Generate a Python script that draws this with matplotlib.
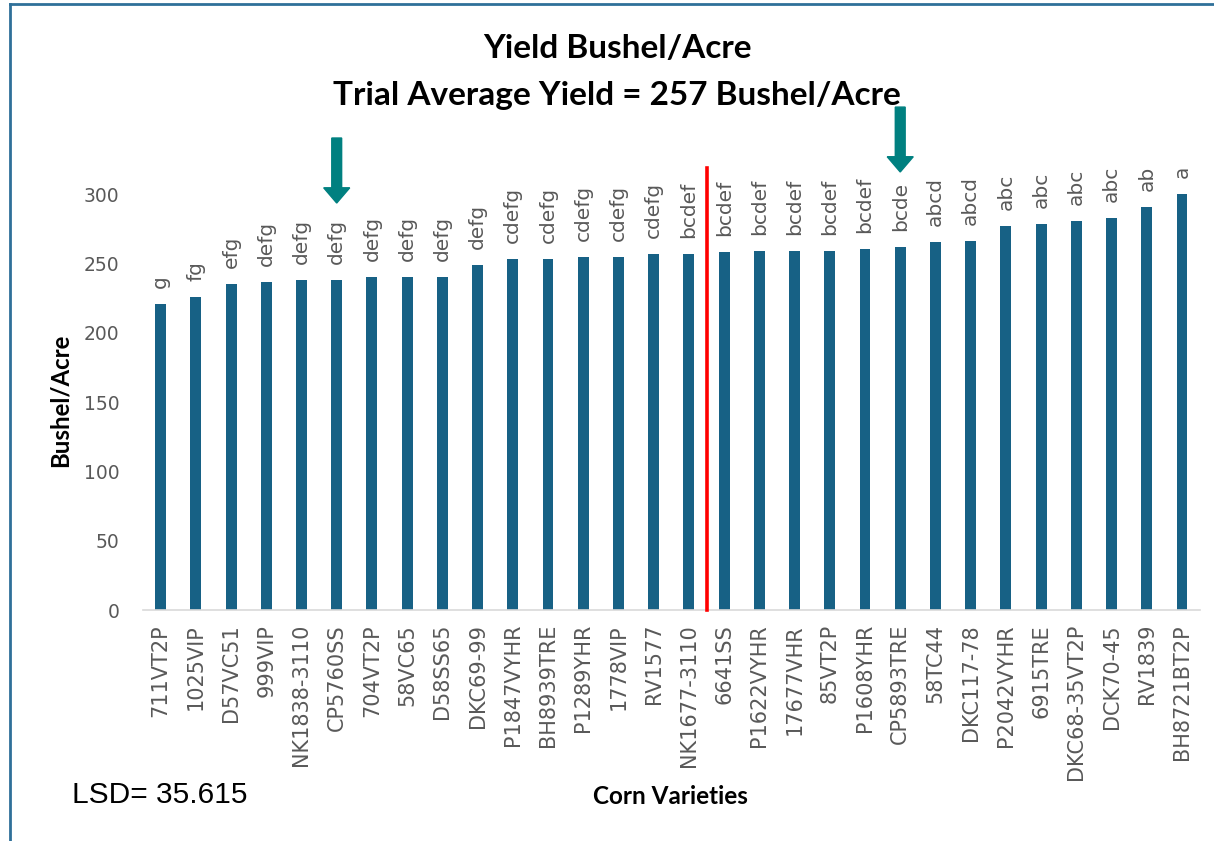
import matplotlib
matplotlib.use("Agg")
import matplotlib.pyplot as plt
from matplotlib.lines import Line2D

varieties = ["711VT2P", "1025VIP", "D57VC51", "999VIP", "NK1838-3110", "CP5760SS",
             "704VT2P", "58VC65", "D58SS65", "DKC69-99", "P1847VYHR", "BH8939TRE",
             "P1289YHR", "1778VIP", "RV1577", "NK1677-3110", "6641SS", "P1622VYHR",
             "17677VHR", "85VT2P", "P1608YHR", "CP5893TRE", "58TC44", "DKC117-78",
             "P2042VYHR", "6915TRE", "DKC68-35VT2P", "DCK70-45", "RV1839", "BH8721BT2P"]
yields = [221.0, 225.6, 235.3, 236.3, 237.8, 238.2, 239.9, 240.1, 240.4, 248.6,
          252.9, 253.1, 254.3, 254.6, 256.7, 256.7, 257.9, 258.7, 258.9, 259.1,
          260.6, 261.8, 265.6, 266.1, 276.9, 278.4, 280.5, 282.9, 290.8, 299.8]
groups = ["g", "fg", "efg", "defg", "defg", "defg", "defg", "defg", "defg", "defg",
          "cdefg", "cdefg", "cdefg", "cdefg", "cdefg", "bcdef", "bcdef", "bcdef",
          "bcdef", "bcdef", "bcdef", "bcde", "abcd", "abcd", "abc", "abc", "abc",
          "abc", "ab", "a"]
yticks = [0, 50, 100, 150, 200, 250, 300]
# highlighted varieties (arrows): index, arrow top, arrow tip (y data)
arrow_idx = [5, 21]
arrow_top = [340.4, 362.7]
arrow_tip = [293.5, 315.9]
split_pos = 15.5
split_top = 318.7

W, H = 1214, 841
fig = plt.figure(figsize=(W / 100, H / 100), dpi=100)
ax_l, ax_r = 143, 1199.6
ax = fig.add_axes([ax_l / W, 1 - 610 / H, (ax_r - ax_l) / W, (610 - 124.7) / H])

bar_color = "#176185"
gray = "#595959"
tick_font = "DejaVu Sans"
x = list(range(len(varieties)))
ax.bar(x, yields, width=0.31, color=bar_color, zorder=2)

ax.set_xlim(-0.5, len(varieties) - 0.5)
ax.set_ylim(0, 350)
ax.set_yticks(yticks)
ax.set_xticks(x)
ax.set_xticklabels(varieties, rotation=90, fontsize=15, color=gray, family=tick_font)
for lab in ax.get_yticklabels():
    lab.set_fontsize(13.5)
    lab.set_color(gray)
    lab.set_family(tick_font)
ax.tick_params(axis="both", length=0)
ax.tick_params(axis="y", pad=17)
ax.tick_params(axis="x", pad=10)
for s in ["top", "right", "left"]:
    ax.spines[s].set_visible(False)
ax.spines["bottom"].set_color("#d9d9d9")
ax.spines["bottom"].set_linewidth(1.2)

for xi, yv, g in zip(x, yields, groups):
    ax.annotate(g, (xi, yv), xytext=(0, 11.5), textcoords="offset points",
                rotation=90, ha="center", va="bottom", fontsize=14.5, color=gray,
                family=tick_font, annotation_clip=False)

ax.plot([split_pos, split_pos], [0, split_top], color="#ff0000", lw=2.6, zorder=3,
        clip_on=False)

for i, t, b in zip(arrow_idx, arrow_top, arrow_tip):
    ax.arrow(x[i], t, 0, b - t, width=0.28, head_width=0.74, head_length=11,
             length_includes_head=True, color="#008080", clip_on=False, zorder=4)

ax.set_ylabel("Bushel/Acre", fontsize=17.3, fontweight="bold", family="Lato")
ax.yaxis.set_label_coords((72 - ax_l) / (ax_r - ax_l), (610 - 400) / (610 - 124.7))

fig.text(617 / W, 1 - 48 / H, "Yield Bushel/Acre", ha="center", va="center",
         fontsize=24, fontweight="bold", family="Lato")
fig.text(617 / W, 1 - 95 / H, "Trial Average Yield = 257 Bushel/Acre", ha="center",
         va="center", fontsize=24, fontweight="bold", family="Lato")
fig.text(670 / W, 1 - 797 / H, "Corn Varieties", ha="center", va="center",
         fontsize=17.5, fontweight="bold", family="Lato")
fig.text(72 / W, 1 - 795 / H, "LSD= 35.615", ha="left", va="center",
         fontsize=21.5, family="Liberation Sans")

border = "#2f7099"
fig.add_artist(Line2D([10 / W, 1.0], [1 - 4 / H, 1 - 4 / H], color=border, lw=2,
                      transform=fig.transFigure))
fig.add_artist(Line2D([10 / W, 10 / W], [0, 1 - 4 / H], color=border, lw=2,
                      transform=fig.transFigure))

fig.savefig("out.png", dpi=100)
